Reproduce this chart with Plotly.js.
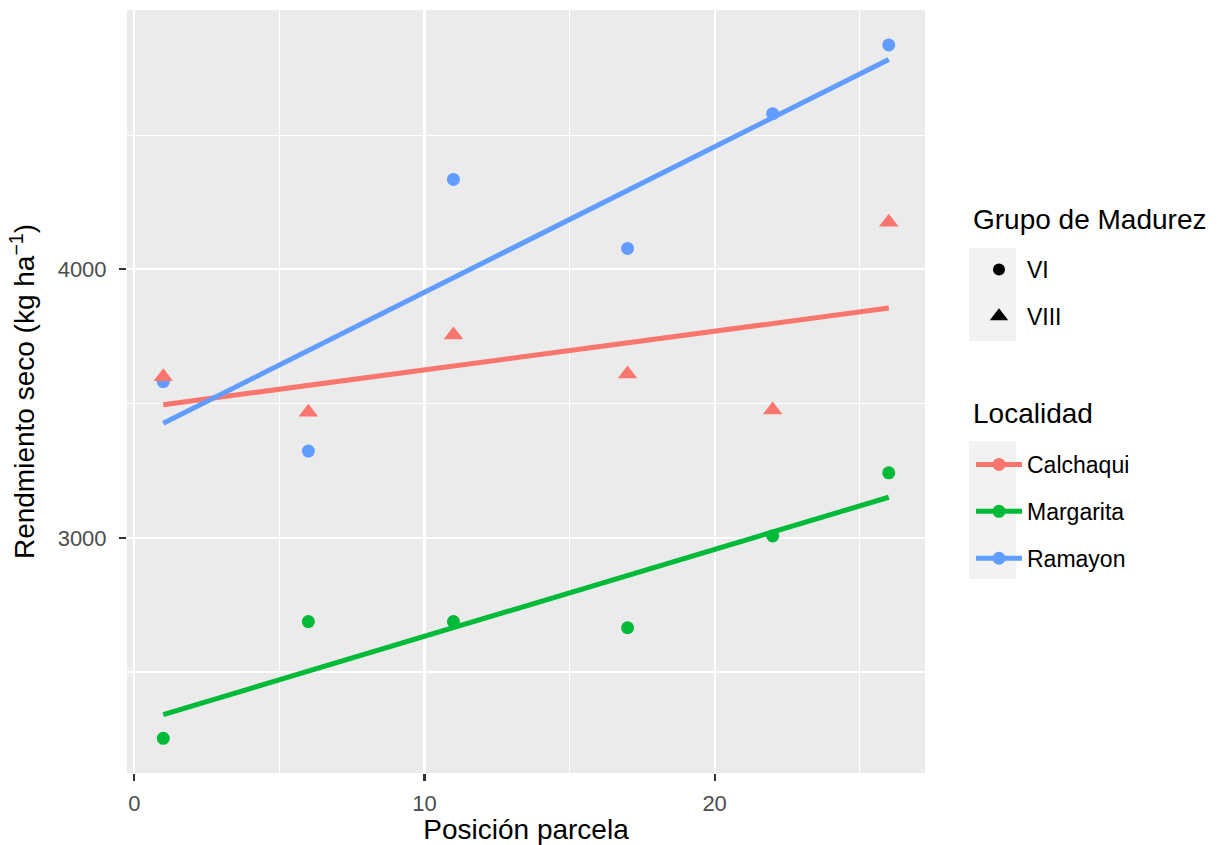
<!DOCTYPE html>
<html>
<head>
<meta charset="utf-8">
<script src="https://cdn.plot.ly/plotly-3.0.1.min.js"></script>
<style>html,body{margin:0;padding:0;background:#fff}</style>
</head>
<body>
<div id="chart" style="width:1224px;height:845px"></div>
<script>
// Data
const posicion = [1, 6, 11, 17, 22, 26];
const localidades = ["Calchaqui", "Margarita", "Ramayon"];
const grupoMadurez = ["VI", "VIII"];
const calchaqui = [3600, 3468, 3755, 3610, 3476, 4175];   // grupo VIII (triangles)
const margarita = [2253, 2688, 2688, 2665, 3007, 3242];   // grupo VI (circles)
const ramayon   = [3582, 3323, 4335, 4078, 4580, 4836];   // grupo VI (circles)
const xTicks = [0, 10, 20];
const yTicks = [3000, 4000];

const colors = {Calchaqui: "#F8766D", Margarita: "#00BA38", Ramayon: "#619CFF"};
const seriesData = {Calchaqui: calchaqui, Margarita: margarita, Ramayon: ramayon};
const seriesGroup = {Calchaqui: "VIII", Margarita: "VI", Ramayon: "VI"};
const symbolOf = {VI: "circle", VIII: "triangle-up"};

function linfit(x, y) {
  const n = x.length;
  const mx = x.reduce((a, b) => a + b, 0) / n;
  const my = y.reduce((a, b) => a + b, 0) / n;
  let sxy = 0, sxx = 0;
  for (let i = 0; i < n; i++) { sxy += (x[i] - mx) * (y[i] - my); sxx += (x[i] - mx) ** 2; }
  const b = sxy / sxx, a = my - b * mx;
  return {a, b};
}

const traces = [];
// points (blue first so red triangle sits on top, as in reference)
["Ramayon", "Margarita", "Calchaqui"].forEach(loc => {
  const g = seriesGroup[loc];
  traces.push({
    type: "scatter", mode: "markers", x: posicion, y: seriesData[loc],
    marker: {color: colors[loc], symbol: symbolOf[g], size: g === "VIII" ? 17 : 13},
    showlegend: false, hoverinfo: "x+y"
  });
});
// regression lines
localidades.forEach(loc => {
  const f = linfit(posicion, seriesData[loc]);
  const xs = [Math.min(...posicion), Math.max(...posicion)];
  traces.push({
    type: "scatter", mode: "lines", x: xs, y: xs.map(v => f.a + f.b * v),
    line: {color: colors[loc], width: 5}, showlegend: false, hoverinfo: "skip"
  });
});
// legend: Grupo de Madurez
grupoMadurez.forEach(g => {
  traces.push({
    type: "scatter", mode: "markers", x: [null], y: [null], name: g,
    marker: {color: "#000000", symbol: symbolOf[g], size: g === "VIII" ? 16 : 12},
    legend: "legend", legendgroup: "g" + g, showlegend: true
  });
});
// legend: Localidad
localidades.forEach(loc => {
  traces.push({
    type: "scatter", mode: "lines+markers", x: [null], y: [null], name: loc,
    line: {color: colors[loc], width: 5},
    marker: {color: colors[loc], symbol: "circle", size: 13},
    legend: "legend2", legendgroup: "l" + loc, showlegend: true
  });
});

const L = 127, R = 925, T = 10, B = 773;
const W = R - L, H = B - T;
const px2x = p => (p - L) / W;
const py2y = p => (B - p) / H;

const layout = {
  width: 1224, height: 845,
  margin: {l: L, r: 1224 - R, t: T, b: 845 - B},
  paper_bgcolor: "#FFFFFF",
  plot_bgcolor: "#EBEBEB",
  font: {family: "Liberation Sans, Arial, sans-serif", color: "#000000"},
  xaxis: {
    range: [-0.25, 27.25], tickmode: "array", tickvals: xTicks, ticktext: xTicks.map(String),
    showgrid: true, gridcolor: "#FFFFFF", gridwidth: 2.2, zeroline: false,
    minor: {tickmode: "array", tickvals: [5, 15, 25], showgrid: true, gridcolor: "#FFFFFF", gridwidth: 1.1, ticklen: 0},
    ticks: "outside", ticklen: 7, tickwidth: 2.2, tickcolor: "#333333",
    tickfont: {size: 22, color: "#4D4D4D"}, ticklabelstandoff: 4,
    showline: false,
    title: {text: "Posición parcela", font: {size: 28, color: "#000000"}, standoff: 8}
  },
  yaxis: {
    range: [2124, 4966], tickmode: "array", tickvals: yTicks, ticktext: yTicks.map(String),
    showgrid: true, gridcolor: "#FFFFFF", gridwidth: 2.2, zeroline: false,
    minor: {tickmode: "array", tickvals: [2500, 3500, 4500], showgrid: true, gridcolor: "#FFFFFF", gridwidth: 1.1, ticklen: 0},
    ticks: "outside", ticklen: 7, tickwidth: 2.2, tickcolor: "#333333",
    tickfont: {size: 22, color: "#4D4D4D"}, ticklabelstandoff: 8,
    showline: false,
    title: {text: "Rendmiento seco (kg ha<sup>−1</sup>)", font: {size: 28, color: "#000000"}, standoff: 14}
  },
  legend: {
    x: px2x(971), y: py2y(248), xanchor: "left", yanchor: "top",
    bgcolor: "rgba(0,0,0,0)", borderwidth: 0,
    font: {size: 23}, itemwidth: 46, tracegroupgap: 14, itemclick: false, itemdoubleclick: false
  },
  legend2: {
    x: px2x(971), y: py2y(443), xanchor: "left", yanchor: "top",
    bgcolor: "rgba(0,0,0,0)", borderwidth: 0,
    font: {size: 23}, itemwidth: 46, tracegroupgap: 14, itemclick: false, itemdoubleclick: false
  },
  annotations: [
    {text: "Grupo de Madurez", xref: "paper", yref: "paper", x: px2x(971), y: py2y(219),
     xanchor: "left", yanchor: "middle", showarrow: false, font: {size: 28, color: "#000000"}},
    {text: "Localidad", xref: "paper", yref: "paper", x: px2x(971), y: py2y(413),
     xanchor: "left", yanchor: "middle", showarrow: false, font: {size: 28, color: "#000000"}}
  ],
  shapes: [
    {type: "rect", xref: "paper", yref: "paper", x0: px2x(969), x1: px2x(1016), y0: py2y(341), y1: py2y(248),
     fillcolor: "#F2F2F2", line: {width: 0}, layer: "below"},
    {type: "rect", xref: "paper", yref: "paper", x0: px2x(969), x1: px2x(1016), y0: py2y(579), y1: py2y(441),
     fillcolor: "#F2F2F2", line: {width: 0}, layer: "below"}
  ],
  showlegend: true
};

Plotly.newPlot("chart", traces, layout, {displayModeBar: false, staticPlot: true});
</script>
</body>
</html>
